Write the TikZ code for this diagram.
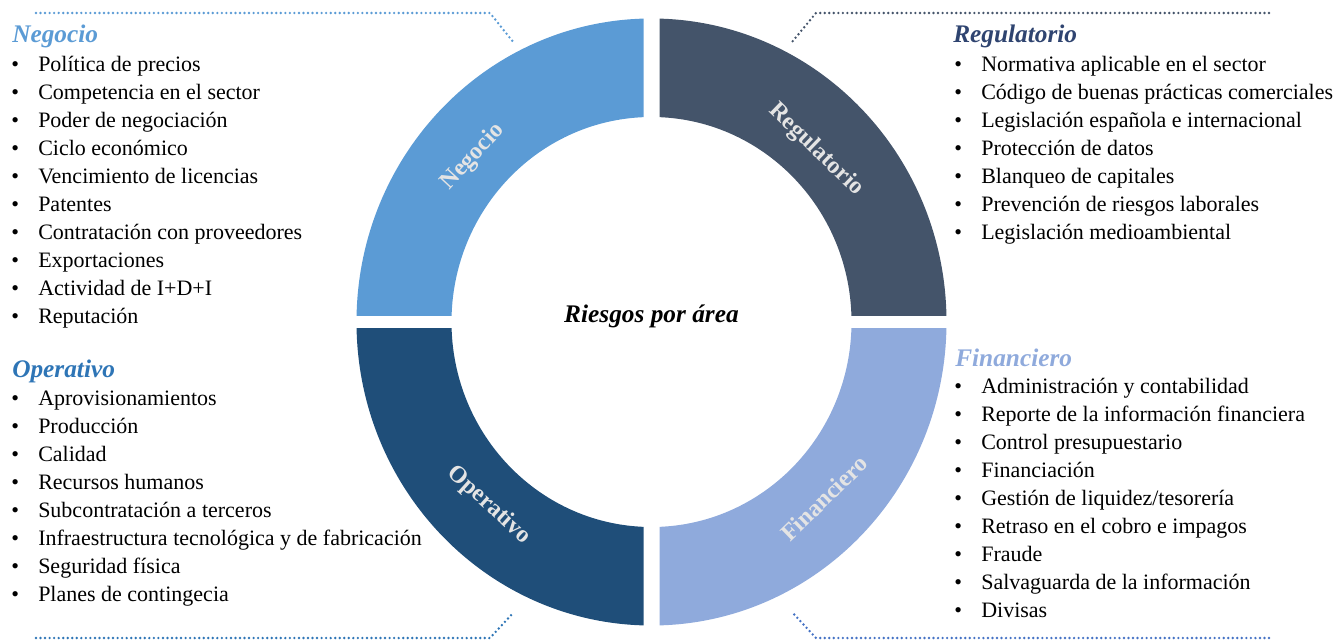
\documentclass[tikz,border=0pt]{standalone}
\usepackage{fontspec}
\setmainfont{Liberation Serif}
\usepackage{tikz}

\definecolor{negblue}{HTML}{5B9BD5}
\definecolor{regslate}{HTML}{44546A}
\definecolor{regtitle}{HTML}{2F4470}
\definecolor{opnavy}{HTML}{1F4E79}
\definecolor{optitle}{HTML}{2E75B6}
\definecolor{finlight}{HTML}{8FAADC}
\definecolor{findot}{HTML}{4472C4}
\definecolor{bandtext}{HTML}{E4E4E4}

\tikzset{
  area/.style={font=\fontsize{19}{21}\selectfont\bfseries\itshape, anchor=base west, inner sep=0},
  item/.style={font=\fontsize{16.5}{19}\selectfont, anchor=base west, inner sep=0},
  bandlabel/.style={font=\fontsize{18}{20}\selectfont\bfseries, text=bandtext, inner sep=0},
  callout/.style={line width=2pt, line cap=round, dash pattern=on 0pt off 3.4pt}
}

\begin{document}
\begin{tikzpicture}[x=0.75pt,y=0.75pt,yscale=-1,xscale=1]
        \useasboundingbox (0,0) rectangle (1334,642);

        %Ring: four quarter bands
        \foreach \col/\xa/\ya/\xb/\yb in {negblue/340/0/643.5/315.5, regslate/659.5/0/962/315.5, opnavy/340/328.5/643.5/642, finlight/659.5/328.5/962/642}{
          \begin{scope}
            \clip (\xa,\ya) rectangle (\xb,\yb);
            \fill[\col, even odd rule] (651.5,322) ellipse (295 and 303.5) (651.5,322) ellipse (200 and 205);
          \end{scope}
        }
        \node[bandlabel, rotate=47] (lbl-neg) at (473,157) {Negocio};
        \node[bandlabel, rotate=-44] (lbl-reg) at (816,150) {Regulatorio};
        \node[bandlabel, rotate=-42] (lbl-op) at (489,505) {Operativo};
        \node[bandlabel, rotate=44] (lbl-fin) at (824,498) {Financiero};

        \node[font=\fontsize{19}{21}\selectfont\bfseries\itshape, anchor=base, inner sep=0] (centro) at (651.5,322) {Riesgos por área};

        %Dotted callouts
        \draw[callout, negblue] (36,13) -- (490,13) -- (514,43);
        \draw[callout, regslate] (1269,13) -- (816,13) -- (792,42);
        \draw[callout, optitle] (36,638) -- (490,638) -- (514,612);
        \draw[callout, findot] (1269,638) -- (816,638) -- (792,612);

        %Negocio
        \node[area, text=negblue] (neg) at (12,43) {Negocio};
        \foreach \t [count=\i] in {Política de precios,Competencia en el sector,Poder de negociación,Ciclo económico,Vencimiento de licencias,Patentes,Contratación con proveedores,Exportaciones,Actividad de I+D+I,Reputación}
          \node[item] (neg-\i) at (11,{71+28.1*(\i-1)}) {\makebox[20.25pt][l]{\textbullet}\t};

        %Operativo
        \node[area, text=optitle] (op) at (12,377) {Operativo};
        \foreach \t [count=\i] in {Aprovisionamientos,Producción,Calidad,Recursos humanos,Subcontratación a terceros,Infraestructura tecnológica y de fabricación,Seguridad física,Planes de contingecia}
          \node[item] (op-\i) at (11,{405+28.1*(\i-1)}) {\makebox[20.25pt][l]{\textbullet}\t};

        %Regulatorio
        \node[area, text=regtitle] (reg) at (953,43) {Regulatorio};
        \foreach \t [count=\i] in {Normativa aplicable en el sector,Código de buenas prácticas comerciales,Legislación española e internacional,Protección de datos,Blanqueo de capitales,Prevención de riesgos laborales,Legislación medioambiental}
          \node[item] (reg-\i) at (954,{71+28.1*(\i-1)}) {\makebox[20.25pt][l]{\textbullet}\t};

        %Financiero
        \node[area, text=finlight] (fin) at (955,366) {Financiero};
        \foreach \t [count=\i] in {Administración y contabilidad,Reporte de la información financiera,Control presupuestario,Financiación,Gestión de liquidez/tesorería,Retraso en el cobro e impagos,Fraude,Salvaguarda de la información,Divisas}
          \node[item] (fin-\i) at (954,{393+28.1*(\i-1)}) {\makebox[20.25pt][l]{\textbullet}\t};
    \end{tikzpicture}
\end{document}
